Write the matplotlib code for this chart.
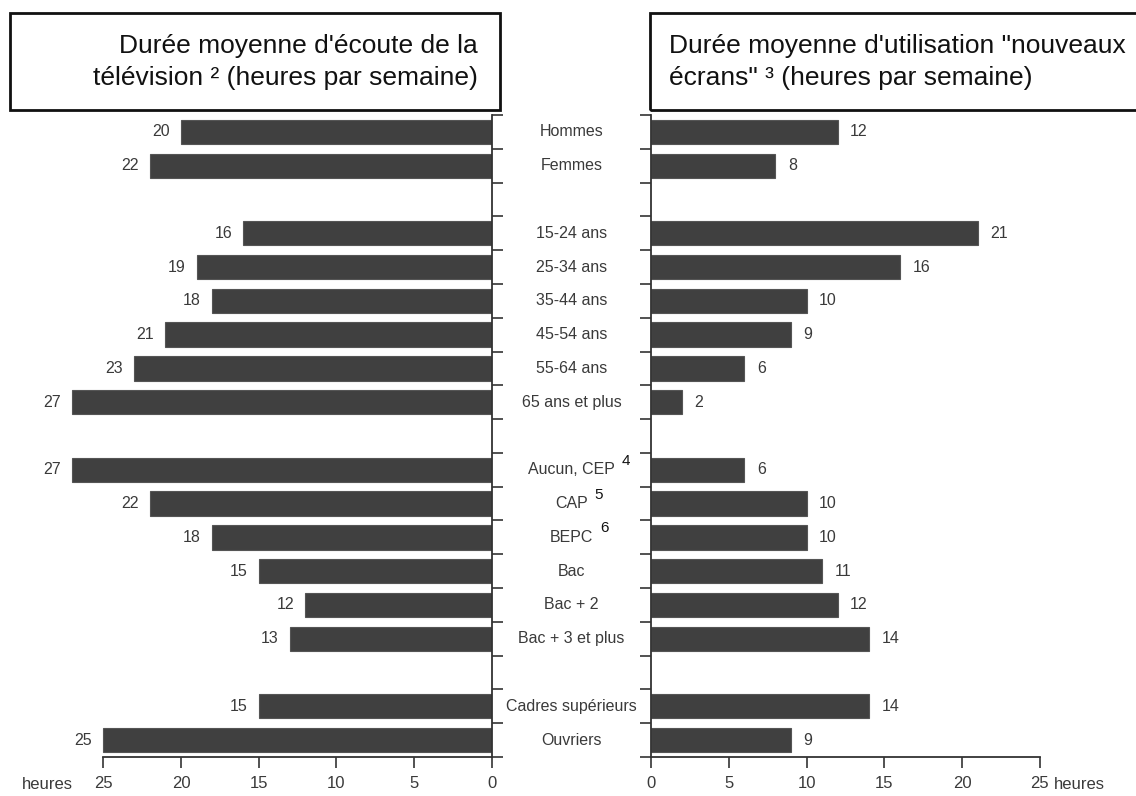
import matplotlib
matplotlib.use("Agg")
import matplotlib.pyplot as plt
import matplotlib.transforms as mtransforms
from matplotlib.patches import Rectangle

# data
categories = ["Hommes", "Femmes", "",
              "15-24 ans", "25-34 ans", "35-44 ans", "45-54 ans", "55-64 ans", "65 ans et plus", "",
              "Aucun, CEP", "CAP", "BEPC", "Bac", "Bac + 2", "Bac + 3 et plus", "",
              "Cadres supérieurs", "Ouvriers"]
tv_hours = [20, 22, None, 16, 19, 18, 21, 23, 27, None, 27, 22, 18, 15, 12, 13, None, 15, 25]
screen_hours = [12, 8, None, 21, 16, 10, 9, 6, 2, None, 6, 10, 10, 11, 12, 14, None, 14, 9]
footnotes = {"Aucun, CEP": "4", "CAP": "5", "BEPC": "6"}
xticks = [0, 5, 10, 15, 20, 25]

narrow = ["Liberation Sans Narrow", "Liberation Sans", "DejaVu Sans"]
sans = ["Liberation Sans", "DejaVu Sans"]
bar_color = "#404040"
txt_color = "#3a3a3a"
axis_color = "#333333"
lab_size = 11.5

fig = plt.figure(figsize=(11.36, 7.96), dpi=100)
ax_l = fig.add_axes([0.0498, 0.049, 0.3833, 0.8065])
ax_r = fig.add_axes([0.5731, 0.049, 0.3833, 0.8065])

n = len(categories)
ypos = list(range(n))

for ax, vals, side in [(ax_l, tv_hours, "left"), (ax_r, screen_hours, "right")]:
    ys = [y for y, v in zip(ypos, vals) if v is not None]
    vs = [v for v in vals if v is not None]
    ax.barh(ys, vs, height=0.72, color=bar_color, edgecolor="#555555", linewidth=0.8)
    for y, v in zip(ys, vs):
        if side == "left":
            ax.annotate(str(v), (v, y), xytext=(-8, 0), textcoords="offset points",
                        ha="right", va="center", fontsize=lab_size, color=txt_color, family=narrow)
        else:
            ax.annotate(str(v), (v, y), xytext=(9, 0), textcoords="offset points",
                        ha="left", va="center", fontsize=lab_size, color=txt_color, family=narrow)
    ax.set_ylim(n - 0.5, -0.5)
    ax.set_yticks([i - 0.5 for i in range(n + 1)])
    ax.set_yticklabels([])
    ax.set_xticks(xticks)
    ax.set_xticklabels([str(t) for t in xticks], family=narrow, fontsize=12, color=txt_color)
    ax.tick_params(axis="x", length=8, width=1.2, color=axis_color, pad=6)
    ax.tick_params(axis="y", length=8, width=1.2, color=axis_color)
    ax.spines["top"].set_visible(False)
    ax.spines["bottom"].set_bounds(0, 25)
    for sp in ax.spines.values():
        sp.set_color(axis_color)
        sp.set_linewidth(1.3)

ax_l.set_xlim(28, 0)
ax_l.spines["left"].set_visible(False)
ax_l.yaxis.tick_right()
ax_l.tick_params(axis="y", direction="out")

ax_r.set_xlim(0, 28)
ax_r.spines["right"].set_visible(False)

# category labels in the middle
mid = mtransforms.blended_transform_factory(fig.transFigure, ax_l.transData)
for y, c in zip(ypos, categories):
    if not c:
        continue
    t = ax_l.text(0.5031, y, c, transform=mid, ha="center", va="center",
                  fontsize=lab_size, color=txt_color, family=narrow)
    if c in footnotes:
        ax_l.annotate(footnotes[c], (1, 1), xycoords=t, xytext=(5, 1),
                      textcoords="offset points", ha="left", va="center",
                      fontsize=11, color="#111111", family=sans)

# "heures" unit labels
ax_l.text(-0.02, -0.043, "heures", transform=ax_l.transAxes, ha="center", va="center",
          fontsize=12, color=txt_color, family=narrow)
ax_r.annotate("heures", (25, 0), xycoords=("data", "axes fraction"), xytext=(10, -20),
              textcoords="offset points", ha="left", va="center",
              fontsize=12, color=txt_color, family=narrow)

# title boxes
fig.patches.append(Rectangle((10 / 1136, 1 - 110 / 796), 490 / 1136, 97 / 796,
                             transform=fig.transFigure, fill=False, edgecolor="#111111",
                             linewidth=2))
fig.patches.append(Rectangle((650 / 1136, 1 - 110 / 796), 500 / 1136, 97 / 796,
                             transform=fig.transFigure, fill=False, edgecolor="#111111",
                             linewidth=2, clip_on=False))
fig.text(478 / 1136, 1 - 62 / 796, "Durée moyenne d'écoute de la\ntélévision ² (heures par semaine)",
         ha="right", va="center", multialignment="right", fontsize=19, color="#111111",
         family=sans, linespacing=1.38)
fig.text(669 / 1136, 1 - 62 / 796, "Durée moyenne d'utilisation \"nouveaux\nécrans\" ³ (heures par semaine)",
         ha="left", va="center", multialignment="left", fontsize=19, color="#111111",
         family=sans, linespacing=1.38)

fig.savefig("out.png", dpi=100)
